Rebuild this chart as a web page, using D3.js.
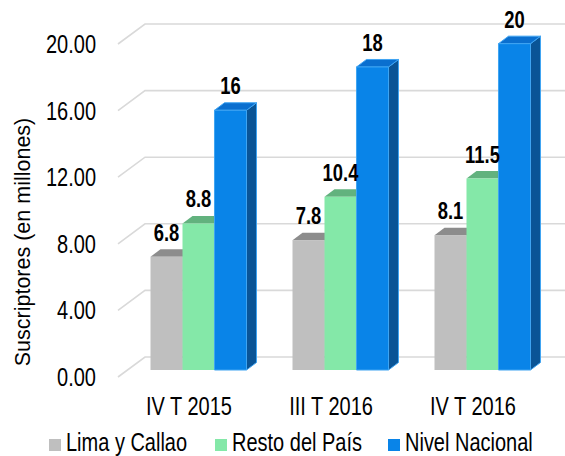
<!DOCTYPE html>
<html>
<head>
<meta charset="utf-8">
<script src="https://cdn.jsdelivr.net/npm/d3@7"></script>
<style>
  body { margin: 0; background: #fff; }
  svg text { font-family: "Liberation Sans", Arial, sans-serif; fill: #000; }
</style>
</head>
<body>
<script>
//Data
const categories = ["IV T 2015", "III T 2016", "IV T 2016"];
const seriesNames = ["Lima y Callao", "Resto del País", "Nivel Nacional"];
const limaCallao = [6.8, 7.8, 8.1];
const restoPais = [8.8, 10.4, 11.5];
const nivelNacional = [15.6, 18.2, 19.6];
const yTicks = [0, 4, 8, 12, 16, 20];

//Colors: front, top, side, edge
const barColors = [
    { front: "#bfbfbf", top: "#8c8c8c", side: "#8c8c8c", edge: "none" },
    { front: "#84e8a8", top: "#62b27e", side: "#62b27e", edge: "none" },
    { front: "#0984e8", top: "#0a6fcf", side: "#0a5496", edge: "#3fa4f2" }
];

const width = 565;
const height = 456;

//Arial Narrow is not there, so squeeze Liberation Sans
const narrow = 0.8;

//front plane of the plot and the depth of the back wall
const plotLeft = 118, plotRight = 544;
const wallDX = 27, wallDY = -20;
//bars sit a bit behind the front plane
const barOffX = 9.5, barOffY = -7;
const barDepthX = 10, barDepthY = -7.5;

let svg = d3.select("body")
    .append("svg")
    .attr("width", width)
    .attr("height", height);

let y = d3.scaleLinear()
    .domain([0, 20])
    .range([377, 44]);

let x0 = d3.scaleBand()
    .domain(categories)
    .range([plotLeft, plotRight])
    .paddingInner(0.324)
    .paddingOuter(0.162);

let x1 = d3.scaleBand()
    .domain(seriesNames)
    .range([0, x0.bandwidth()]);

function place(x, y) {
    return "translate(" + x + "," + y + ") scale(" + narrow + ",1)";
}

//gridlines: diagonal on the side wall, then flat on the back wall
let grid = svg.append("g");
yTicks.forEach(function(t) {
    let yy = y(t);
    grid.append("path")
        .attr("d", "M" + plotLeft + "," + yy + "L" + (plotLeft + wallDX) + "," + (yy + wallDY) + "L" + width + "," + (yy + wallDY))
        .attr("fill", "none")
        .attr("stroke", "#d9d9d9")
        .attr("stroke-width", 1.6);
});

//tick labels
svg.append("g")
    .selectAll("text")
    .data(yTicks)
    .enter()
    .append("text")
    .attr("transform", function(d) { return place(96, y(d) + 9); })
    .attr("text-anchor", "end")
    .style("font-size", "25px")
    .text(function(d) { return d3.format(".2f")(d); });

//axis title
svg.append("text")
    .attr("transform", "translate(30,242) rotate(-90)")
    .attr("text-anchor", "middle")
    .style("font-size", "21.5px")
    .text("Suscriptores (en millones)");

//bars
let seriesValues = [limaCallao, restoPais, nivelNacional];
let bars = [];
seriesValues.forEach(function(vals, s) {
    vals.forEach(function(v, i) {
        bars.push({ cat: categories[i], series: seriesNames[s], s: s, value: v });
    });
});

let barGroups = svg.append("g")
    .selectAll("g")
    .data(bars)
    .enter()
    .append("g")
    .attr("stroke", function(d) { return barColors[d.s].edge; })
    .attr("stroke-width", 1)
    .attr("stroke-linejoin", "round");

function barGeom(d) {
    let xl = x0(d.cat) + x1(d.series) + barOffX;
    let xr = xl + x1.bandwidth();
    let yb = y(0) + barOffY;
    let yt = y(d.value) + barOffY;
    return { xl: xl, xr: xr, yb: yb, yt: yt };
}

barGroups.append("path")
    .attr("d", function(d) {
        let g = barGeom(d);
        return "M" + g.xr + "," + g.yb + "L" + (g.xr + barDepthX) + "," + (g.yb + barDepthY) +
            "L" + (g.xr + barDepthX) + "," + (g.yt + barDepthY) + "L" + g.xr + "," + g.yt + "Z";
    })
    .attr("fill", function(d) { return barColors[d.s].side; });

barGroups.append("path")
    .attr("d", function(d) {
        let g = barGeom(d);
        return "M" + g.xl + "," + g.yt + "L" + g.xr + "," + g.yt +
            "L" + (g.xr + barDepthX) + "," + (g.yt + barDepthY) + "L" + (g.xl + barDepthX) + "," + (g.yt + barDepthY) + "Z";
    })
    .attr("fill", function(d) { return barColors[d.s].top; });

barGroups.append("rect")
    .attr("x", function(d) { return barGeom(d).xl; })
    .attr("y", function(d) { return barGeom(d).yt; })
    .attr("width", x1.bandwidth())
    .attr("height", function(d) { let g = barGeom(d); return g.yb - g.yt; })
    .attr("fill", function(d) { return barColors[d.s].front; });

//value labels
svg.append("g")
    .selectAll("text")
    .data(bars)
    .enter()
    .append("text")
    .attr("transform", function(d) { let g = barGeom(d); return place((g.xl + g.xr) / 2, g.yt - 16); })
    .attr("text-anchor", "middle")
    .style("font-size", "23px")
    .style("font-weight", "bold")
    .text(function(d) {
        return d.s === 2 ? d3.format(".0f")(d.value) : d3.format(".1f")(d.value);
    });

//category labels
svg.append("g")
    .selectAll("text")
    .data(categories)
    .enter()
    .append("text")
    .attr("transform", function(d) { return place(x0(d) + x0.bandwidth() / 2, 415); })
    .attr("text-anchor", "middle")
    .style("font-size", "25px")
    .text(function(d) { return d; });

//legend
const legendX = [49, 215, 388];
let legend = svg.append("g")
    .selectAll("g")
    .data(seriesNames)
    .enter()
    .append("g")
    .attr("transform", function(d, i) { return "translate(" + legendX[i] + ",439)"; });

legend.append("rect")
    .attr("width", 12)
    .attr("height", 12)
    .attr("fill", function(d, i) { return barColors[i].front; });

legend.append("text")
    .attr("transform", place(17, 12))
    .style("font-size", "25px")
    .text(function(d) { return d; });
</script>
</body>
</html>
